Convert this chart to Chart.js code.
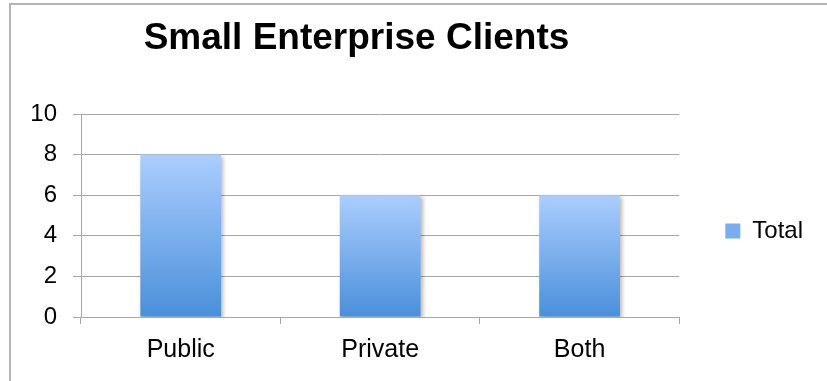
<!DOCTYPE html>
<html lang="en">
<head>
  <meta charset="UTF-8">
  <title>Small Enterprise Clients</title>
  <script src="https://cdn.jsdelivr.net/npm/chart.js"></script>
  <style>
    html, body { margin: 0; padding: 0; background: #fff; overflow: hidden; }
    body { font-family: "Liberation Sans", Arial, sans-serif; }
    #wrap { position: relative; width: 827px; height: 381px; overflow: hidden; }
    #frame { position: absolute; left: 9px; top: 3px; width: 900px; height: 500px; border: 2px solid #b4b4b4; box-sizing: border-box; }
    #title { position: absolute; left: 0; width: 713px; top: 18px; line-height: 37px; text-align: center; font-weight: bold; font-size: 37px; color: #000; }
    #box { position: absolute; left: 0; top: 0; width: 827px; height: 381px; }
  </style>
</head>
<body>
  <div id="wrap">
    <div id="frame"></div>
    <div id="box"><canvas id="chartCanvas"></canvas></div>
    <div id="title">Small Enterprise Clients</div>
  </div>

  <script>
    const categories = ["Public", "Private", "Both"];
    const totalValues = [8, 6, 6];
    const yTicks = [0, 2, 4, 6, 8, 10];

    const gridColor = "#a6a6a6";
    const fontFamily = '"Liberation Sans", Arial, sans-serif';

    // vertical gradient per bar, light at the top, darker at the base
    function barGradient(context) {
      const chart = context.chart;
      const area = chart.chartArea;
      if (!area || context.type !== "data") return "#79adee";
      const y = chart.scales.y;
      const top = y.getPixelForValue(context.parsed.y);
      const bottom = y.getPixelForValue(0);
      if (!isFinite(top) || top === bottom) return "#79adee";
      const g = chart.ctx.createLinearGradient(0, top, 0, bottom);
      g.addColorStop(0, "#abcefe");
      g.addColorStop(1, "#4a8fda");
      return g;
    }

    // soft drop shadow under the bars
    const barShadow = {
      id: "barShadow",
      beforeDatasetsDraw(chart) {
        const ctx = chart.ctx;
        ctx.save();
        ctx.shadowColor = "rgba(0,0,0,0.28)";
        ctx.shadowBlur = 4;
        ctx.shadowOffsetX = 2;
        ctx.shadowOffsetY = 2;
      },
      afterDatasetsDraw(chart) {
        chart.ctx.restore();
      }
    };

    Chart.defaults.font.family = fontFamily;
    Chart.defaults.color = "#000";

    const ctx = document.getElementById("chartCanvas").getContext("2d");
    new Chart(ctx, {
      type: "bar",
      data: {
        labels: categories,
        datasets: [{
          label: "Total",
          data: totalValues,
          backgroundColor: barGradient,
          borderWidth: 0,
          categoryPercentage: 1,
          barPercentage: 0.405
        }]
      },
      plugins: [barShadow],
      options: {
        responsive: true,
        maintainAspectRatio: false,
        animation: false,
        layout: { padding: { top: 86, right: 14, bottom: 5, left: 0 } },
        plugins: {
          title: { display: false },
          // empty spacer above the plot only, so the legend sits a bit higher
          subtitle: {
            display: true,
            text: "",
            fullSize: false,
            position: "top",
            padding: 0,
            font: { size: 28, lineHeight: 1 }
          },
          tooltip: { enabled: false },
          legend: {
            position: "right",
            labels: {
              boxWidth: 15,
              boxHeight: 15,
              padding: 46,
              font: { size: 24 },
              color: "#000",
              generateLabels() {
                return [{ text: "Total", fillStyle: "#79adee", strokeStyle: "#79adee", lineWidth: 0, datasetIndex: 0 }];
              }
            }
          }
        },
        scales: {
          x: {
            grid: { display: true, drawOnChartArea: false, color: gridColor, tickLength: 7, offset: true },
            border: { display: true, color: gridColor },
            ticks: { font: { size: 25 }, color: "#000", padding: 11 }
          },
          y: {
            min: 0,
            max: 10,
            afterFit(scale) { scale.width = 81; },
            afterBuildTicks(scale) { scale.ticks = yTicks.map(v => ({ value: v })); },
            grid: { color: gridColor, tickLength: 8 },
            border: { display: true, color: gridColor },
            ticks: { font: { size: 24 }, color: "#000", padding: 16 }
          }
        }
      }
    });
  </script>
</body>
</html>
